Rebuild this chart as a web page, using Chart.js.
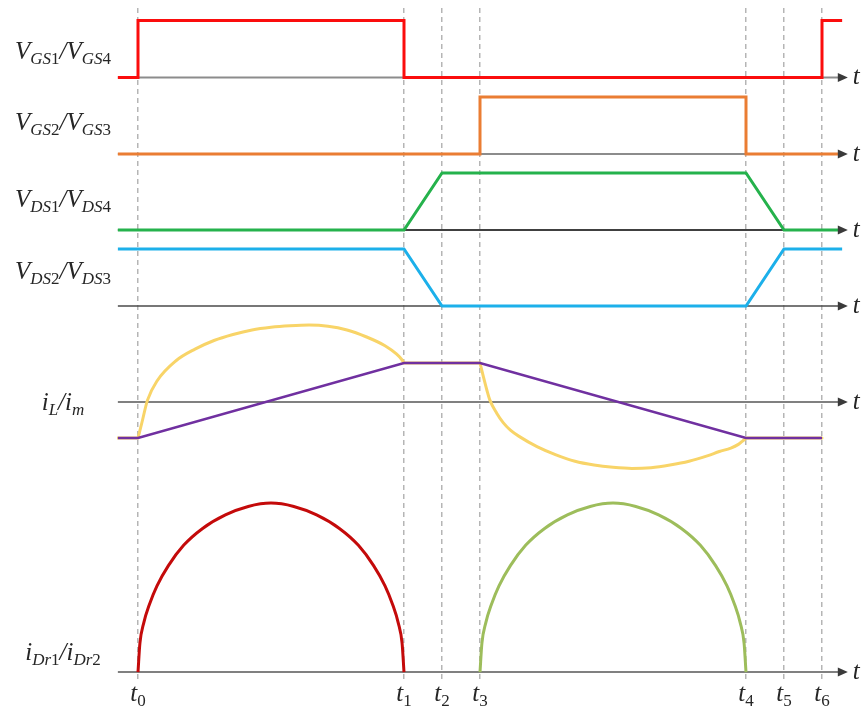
<!DOCTYPE html>
<html>
<head>
<meta charset="utf-8">
<script src="https://cdn.jsdelivr.net/npm/chart.js@4/dist/chart.umd.min.js"></script>
<style>
  html, body { margin: 0; padding: 0; background: #ffffff; }
  canvas { display: block; }
</style>
</head>
<body>
<canvas id="wave" width="864" height="706"></canvas>
<script>
// ---- switching instants (time unit = one dead-time interval) ----
const tickTimes  = [0, 7, 8, 9, 16, 17, 18];
const tickLabels = ['t_{0}', 't_{1}', 't_{2}', 't_{3}', 't_{4}', 't_{5}', 't_{6}'];

// ---- gate drives (1 = on); each level holds until the next instant ----
const gate14Times  = [-0.53, 0, 7, 18, 18.53];
const gate14Levels = [0, 1, 0, 1, 1];
const gate23Times  = [-0.53, 9, 16, 18.55];
const gate23Levels = [0, 1, 0, 0];

// ---- drain-source voltages (normalised to the bus voltage) ----
const vds14Times  = [-0.53, 7, 8, 16, 17, 18.55];
const vds14Values = [0, 0, 1, 1, 0, 0];
const vds23Times  = [-0.53, 7, 8, 16, 17, 18.53];
const vds23Values = [1, 1, 0, 0, 1, 1];

// ---- resonant current i_L ----
const iLTimes  = [-0.53, 0, 0.1, 0.25, 0.5, 1, 1.5, 2, 2.5, 3, 3.5, 4, 4.5, 5, 5.5, 6, 6.5, 6.8, 6.95, 7,
                  9, 9.09, 9.18, 9.26, 9.44, 9.61, 9.8, 10.05, 10.5, 11, 11.5, 12, 12.5, 13, 13.5, 14, 14.5, 15,
                  15.3, 15.6, 15.8, 15.9, 15.97, 16, 18];
const iLValues = [-0.96, -0.96, -0.56, 0.05, 0.56, 1.10, 1.41, 1.64, 1.80, 1.92, 1.99, 2.03, 2.05, 2.02, 1.92, 1.74, 1.50, 1.28, 1.12, 1.04,
                  1.04, 0.67, 0.32, 0.05, -0.30, -0.55, -0.75, -0.93, -1.19, -1.41, -1.58, -1.68, -1.74, -1.77, -1.75, -1.68, -1.58, -1.43,
                  -1.32, -1.23, -1.13, -1.05, -0.99, -0.96, -0.96];
// instants where i_L changes abruptly from a flat run to a resonant arc
const iLCornerTimes = [0, 7, 9, 16];

// ---- magnetising current i_m ----
const imTimes  = [-0.53, 0, 7, 9, 16, 18];
const imValues = [-0.96, -0.96, 1.04, 1.04, -0.96, -0.96];

// ---- rectifier diode currents ----
const iDr1Times  = [0, 0.05, 0.15, 0.3, 0.5, 0.8, 1.2, 1.7, 2.3, 2.9, 3.5, 4.1, 4.7, 5.3, 5.8, 6.2, 6.5, 6.7, 6.85, 6.95, 7];
const iDr1Values = [0, 0.17, 0.29, 0.40, 0.51, 0.63, 0.75, 0.85, 0.93, 0.98, 1, 0.98, 0.93, 0.85, 0.75, 0.63, 0.51, 0.40, 0.29, 0.17, 0];
const iDr2Times  = [9, 9.05, 9.15, 9.3, 9.5, 9.8, 10.2, 10.7, 11.3, 11.9, 12.5, 13.1, 13.7, 14.3, 14.8, 15.2, 15.5, 15.7, 15.85, 15.95, 16];
const iDr2Values = [0, 0.17, 0.29, 0.40, 0.51, 0.63, 0.75, 0.85, 0.93, 0.98, 1, 0.98, 0.93, 0.85, 0.75, 0.63, 0.51, 0.40, 0.29, 0.17, 0];

// ---- panel texts ----
const panelLabels = ['V_{GS1}/V_{GS4}', 'V_{GS2}/V_{GS3}', 'V_{DS1}/V_{DS4}', 'V_{DS2}/V_{DS3}', 'i_{L}/i_{m}', 'i_{Dr1}/i_{Dr2}'];
const timeSymbol = 't';

// ---- layout: one stacked y scale per trace panel, listed top to bottom ----
const panels = [
  { id: 'yGate14', min: -0.167, max: 1.219, weight: 79,   labelAt: 0.32,  axisColor: '#8c8c8c', axisWidth: 2 },
  { id: 'yGate23', min: -0.167, max: 1.175, weight: 76.5, labelAt: 0.42,  axisColor: '#8c8c8c', axisWidth: 2 },
  { id: 'yVds14',  min: -0.175, max: 1.167, weight: 76.5, labelAt: 0.40,  axisColor: '#000000', axisWidth: 1.3 },
  { id: 'yVds23',  min: -0.175, max: 1.158, weight: 76,   labelAt: 0.47,  axisColor: '#4a4a4a', axisWidth: 1.6 },
  { id: 'yCur',    min: -2.213, max: 2.293, weight: 169,  labelAt: -0.21, axisColor: '#808080', axisWidth: 2.2 },
  { id: 'yDiode',  min: -0.047, max: 1.107, weight: 195,  labelAt: 0.07,  axisColor: '#808080', axisWidth: 2 }
];
const axisStart = -0.53;
const axisEnd = 18.68;
const labelCenterX = 63;
const tickLabelBaseline = 701;

const mainFont = 'Liberation Serif';
const mainSize = 25;
const subSize = 17;

const pts = (xs, ys) => xs.map((x, i) => ({ x: x, y: ys[i] }));

// same points, but the smooth curve is restarted at each corner instant
function ptsWithCorners(xs, ys, corners) {
  const out = [];
  xs.forEach((x, i) => {
    out.push({ x: x, y: ys[i] });
    if (corners.includes(x) && i > 0 && i < xs.length - 1) {
      out.push({ x: x, y: null });
      out.push({ x: x, y: ys[i] });
    }
  });
  return out;
}

function trace(label, data, axis, color, width, extra) {
  return Object.assign({
    label: label,
    data: data,
    yAxisID: axis,
    borderColor: color,
    borderWidth: width,
    pointRadius: 0,
    fill: false,
    tension: 0,
    spanGaps: false
  }, extra || {});
}

const datasets = [
  trace('i_m', pts(imTimes, imValues), 'yCur', '#7030a0', 2.6),
  trace('i_L', ptsWithCorners(iLTimes, iLValues, iLCornerTimes), 'yCur', '#f8d468', 3,
        { cubicInterpolationMode: 'monotone', borderCapStyle: 'round' }),
  trace('V_GS1/V_GS4', pts(gate14Times, gate14Levels), 'yGate14', '#fb0d0d', 3, { stepped: 'before' }),
  trace('V_GS2/V_GS3', pts(gate23Times, gate23Levels), 'yGate23', '#ea7d33', 3, { stepped: 'before' }),
  trace('V_DS1/V_DS4', pts(vds14Times, vds14Values), 'yVds14', '#25b24c', 3),
  trace('V_DS2/V_DS3', pts(vds23Times, vds23Values), 'yVds23', '#1cb0ea', 3),
  trace('i_Dr1', pts(iDr1Times, iDr1Values), 'yDiode', '#c40a0a', 3, { cubicInterpolationMode: 'monotone' }),
  trace('i_Dr2', pts(iDr2Times, iDr2Values), 'yDiode', '#9dbd5b', 3, { cubicInterpolationMode: 'monotone' })
];

// split 'V_{GS1}' style text into normal / subscript pieces
function parseRich(str) {
  const out = [];
  let i = 0;
  while (i < str.length) {
    if (str[i] === '_' && str[i + 1] === '{') {
      const j = str.indexOf('}', i);
      out.push({ text: str.slice(i + 2, j), sub: true });
      i = j + 1;
    } else {
      let j = i;
      while (j < str.length && !(str[j] === '_' && str[j + 1] === '{')) j++;
      out.push({ text: str.slice(i, j), sub: false });
      i = j;
    }
  }
  return out;
}

function glyphFont(ch, sub) {
  const size = sub ? subSize : mainSize;
  const style = /[0-9]/.test(ch) ? '' : 'italic ';
  return style + size + 'px "' + mainFont + '"';
}

function richWidth(ctx, parts) {
  let w = 0;
  parts.forEach(p => {
    for (const ch of p.text) { ctx.font = glyphFont(ch, p.sub); w += ctx.measureText(ch).width; }
  });
  return w;
}

function drawRich(ctx, str, x, baseline, align) {
  const parts = parseRich(str);
  let cx = x;
  if (align === 'center') cx = x - richWidth(ctx, parts) / 2;
  ctx.save();
  ctx.fillStyle = '#262626';
  ctx.textBaseline = 'alphabetic';
  ctx.textAlign = 'left';
  parts.forEach(p => {
    for (const ch of p.text) {
      ctx.font = glyphFont(ch, p.sub);
      ctx.fillText(ch, cx, baseline + (p.sub ? 5 : 0));
      cx += ctx.measureText(ch).width;
    }
  });
  ctx.restore();
}

const waveformDecor = {
  id: 'waveformDecor',
  beforeDatasetsDraw(chart) {
    const { ctx, scales } = chart;
    const xa = scales.x.getPixelForValue(axisStart);
    const xb = scales.x.getPixelForValue(axisEnd);
    panels.forEach(p => {
      const y = scales[p.id].getPixelForValue(0);
      ctx.save();
      ctx.strokeStyle = p.axisColor;
      ctx.lineWidth = p.axisWidth;
      ctx.beginPath();
      ctx.moveTo(xa, y);
      ctx.lineTo(xb - 6, y);
      ctx.stroke();
      ctx.restore();
    });
  },
  afterDatasetsDraw(chart) {
    const { ctx, scales } = chart;
    const xb = scales.x.getPixelForValue(axisEnd);
    panels.forEach((p, i) => {
      const y = scales[p.id].getPixelForValue(0);
      // arrow head
      ctx.save();
      ctx.fillStyle = '#3a3a3a';
      ctx.beginPath();
      ctx.moveTo(xb, y);
      ctx.lineTo(xb - 10, y - 4.5);
      ctx.lineTo(xb - 10, y + 4.5);
      ctx.closePath();
      ctx.fill();
      ctx.restore();
      drawRich(ctx, timeSymbol, xb + 5, y + 7, 'left');
      // panel name on the left
      drawRich(ctx, panelLabels[i], labelCenterX, scales[p.id].getPixelForValue(p.labelAt), 'center');
    });
    tickTimes.forEach((t, i) => {
      drawRich(ctx, tickLabels[i], scales.x.getPixelForValue(t), tickLabelBaseline, 'center');
    });
  }
};

// Chart.js stacks the left-hand scales bottom-up in definition order,
// so the scales are registered from the lowest panel to the highest.
const yScales = {};
panels.slice().reverse().forEach(p => {
  yScales[p.id] = {
    type: 'linear',
    position: 'left',
    stack: 'traces',
    stackWeight: p.weight,
    min: p.min,
    max: p.max,
    display: false
  };
});

new Chart(document.getElementById('wave'), {
  type: 'line',
  data: { datasets: datasets },
  options: {
    responsive: false,
    animation: false,
    devicePixelRatio: 1,
    layout: { padding: { left: 117.1, right: 15.4, top: 8, bottom: 26 } },
    plugins: { legend: { display: false }, tooltip: { enabled: false } },
    scales: Object.assign({
      x: {
        type: 'linear',
        position: 'bottom',
        min: -0.55,
        max: 18.7,
        afterBuildTicks: s => { s.ticks = tickTimes.map(v => ({ value: v })); },
        ticks: { display: false },
        grid: { color: '#b5b5b5', lineWidth: 1.5, drawTicks: false },
        border: { display: false, dash: [5, 4] }
      }
    }, yScales)
  },
  plugins: [waveformDecor]
});
</script>
</body>
</html>
